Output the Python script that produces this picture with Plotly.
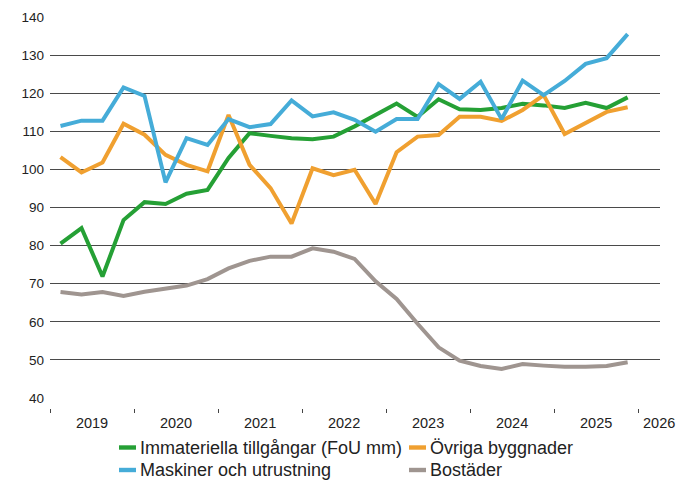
import plotly.graph_objects as go

quarters = [f"{y}Q{q}" for y in range(2019, 2026) for q in range(1, 5)]

immateriella = [80.5, 84.6, 71.9, 86.7, 91.4, 90.9, 93.6, 94.6, 103.0, 109.5, 108.8, 108.2, 107.9, 108.6,
                111.3, 114.3, 117.3, 113.8, 118.4, 115.8, 115.6, 116.1, 117.2, 116.8, 116.1, 117.5, 116.1, 118.9]
ovriga = [103.2, 99.2, 101.8, 112.0, 109.1, 103.8, 101.2, 99.5, 114.3, 101.2, 95.1, 85.8, 100.3, 98.5,
          99.9, 90.9, 104.5, 108.6, 109.0, 113.8, 113.8, 112.7, 115.6, 119.5, 109.3, 112.3, 115.1, 116.3]
maskiner = [111.4, 112.8, 112.8, 121.5, 119.3, 96.6, 108.2, 106.4, 113.2, 111.1, 111.9, 118.1, 113.9, 115.0,
            113.0, 109.9, 113.2, 113.2, 122.4, 118.5, 123.0, 113.2, 123.3, 119.5, 123.2, 127.7, 129.2, 135.5]
bostader = [67.8, 67.2, 67.8, 66.8, 67.9, 68.8, 69.5, 71.2, 74.0, 76.0, 77.1, 77.1, 79.3, 78.4,
            76.5, 70.6, 66.0, 59.5, 53.3, 49.8, 48.4, 47.6, 48.9, 48.5, 48.2, 48.2, 48.4, 49.4]

year_labels = ["2019", "2020", "2021", "2022", "2023", "2024", "2025", "2026"]
y_ticks = [40, 50, 60, 70, 80, 90, 100, 110, 120, 130, 140]

# numeric x: middle of each quarter
x = [int(qs[:4]) + (int(qs[-1]) - 0.5) / 4 for qs in quarters]

series = [
    ("Immateriella tillgångar (FoU mm)", immateriella, "#25a035"),
    ("Övriga byggnader", ovriga, "#f0a030"),
    ("Maskiner och utrustning", maskiner, "#45acd8"),
    ("Bostäder", bostader, "#9f9590"),
]

W, H = 689, 481
L, R, T, B = 50, 29, 17, 73
PW, PH = W - L - R, H - T - B


def px_x(px):
    return (px - L) / PW


def px_y(py):
    return (H - B - py) / PH


fig = go.Figure()
for name, vals, col in series:
    fig.add_trace(go.Scatter(x=x, y=vals, mode="lines", name=name,
                             line=dict(color=col, width=4), showlegend=False))

# legend drawn as swatches + labels (2 columns x 2 rows)
legend_slots = [(119, 447.5), (409, 447.5), (119, 470), (409, 470)]
for (name, vals, col), (sx, sy) in zip(series, legend_slots):
    fig.add_shape(type="rect", xref="paper", yref="paper",
                  x0=px_x(sx), x1=px_x(sx + 17), y0=px_y(sy + 2.2), y1=px_y(sy - 2.2),
                  fillcolor=col, line=dict(width=0))
    fig.add_annotation(xref="paper", yref="paper", x=px_x(sx + 19), y=px_y(sy),
                       xanchor="left", yanchor="middle", text=name, showarrow=False,
                       font=dict(size=18, color="#222"))

label_pos = [int(y) + 0.5 for y in year_labels[:-1]] + [2026.25]

fig.update_layout(
    width=W, height=H,
    margin=dict(l=L, r=R, t=T, b=B, autoexpand=False),
    plot_bgcolor="white", paper_bgcolor="white",
    font=dict(family="Liberation Sans, Arial, sans-serif", color="#222"),
    xaxis=dict(
        range=[2019, 2026.26], anchor="free", position=0,
        showgrid=False, zeroline=False, showline=False,
        tickmode="array", tickvals=label_pos, ticktext=year_labels,
        ticks="", tickfont=dict(size=14.5, color="#222"),
        ticklabelstandoff=4,
        minor=dict(tickmode="array", tickvals=[2019, 2020, 2021, 2022, 2023, 2024, 2025, 2026],
                   ticks="outside", ticklen=4, tickwidth=1, tickcolor="#444", showgrid=False),
    ),
    yaxis=dict(
        range=[40, 140], domain=[10 / PH, 1],
        tickmode="array", tickvals=y_ticks,
        showgrid=True, gridcolor="#4a4a4a", gridwidth=1.4,
        zeroline=False, showline=False, ticks="",
        tickfont=dict(size=13.5, color="#222"), ticklabelstandoff=5,
    ),
    showlegend=False,
)

fig.write_html("out.html", config={"displayModeBar": False},
               post_script="document.body.style.margin='0';")
